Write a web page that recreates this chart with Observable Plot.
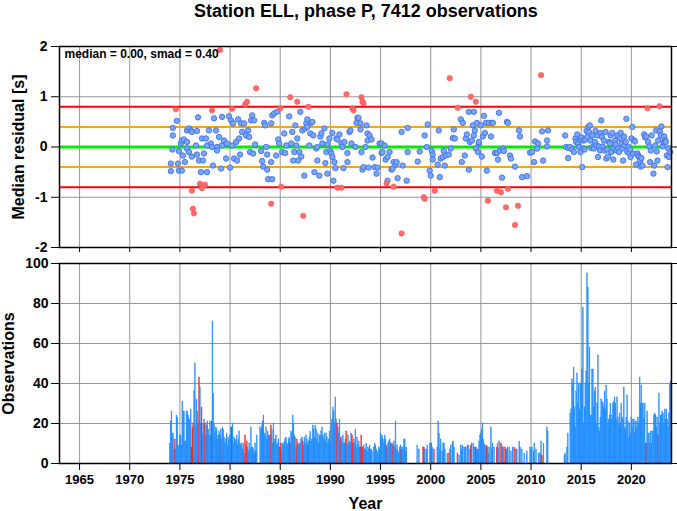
<!DOCTYPE html>
<html><head><meta charset="utf-8">
<script src="https://cdn.jsdelivr.net/npm/d3@7"></script>
<script src="https://cdn.jsdelivr.net/npm/@observablehq/plot@0.6"></script>
<style>
body{margin:0;background:#fff;width:677px;height:511px;overflow:hidden;font-family:"Liberation Sans",Arial,Helvetica,sans-serif;}
#title{height:30px;line-height:22px;font-weight:bold;font-size:18px;text-align:center;padding-left:55px;box-sizing:border-box;width:677px;color:#000;}
svg{display:block}
</style></head>
<body>
<div id="title">Station ELL, phase P, 7412 observations</div>
<div id="top"></div>
<div id="bottom"></div>
<script>
// ---- data ----
const stationTitle = "Station ELL, phase P, 7412 observations";
const median = 0.00, smad = 0.40;
const yearTicks = [1965,1970,1975,1980,1985,1990,1995,2000,2005,2010,2015,2020];
const residualTicks = [-2,-1,0,1,2];
const countTicks = [0,20,40,60,80,100];
const yearDomain = [1963, 2024];

// monthly median residuals within limits [decimal year, residual s]
const inliers = [[1974.1,-0.33],[1974.1,-0.48],[1974.25,-0.05],[1974.3,0.23],[1974.3,0.38],[1974.7,0.52],[1974.8,-0.33],[1974.9,-0.47],[1974.9,-0.08],[1975.1,0.07],[1975.2,0.13],[1975.2,-0.47],[1975.3,-0.17],[1975.4,0.15],[1975.5,-0.3],[1975.7,0.33],[1975.7,0.1],[1975.7,-0.03],[1975.9,0.37],[1975.9,-0.1],[1976.1,0.33],[1976.2,0.3],[1976.2,-0.19],[1976.6,0.03],[1976.7,0.32],[1976.7,-0.15],[1976.8,0.59],[1976.9,-0.27],[1977.1,-0.5],[1977.2,0.17],[1977.3,-0.27],[1977.4,-0.13],[1977.6,0.17],[1977.7,0.03],[1977.7,-0.5],[1977.9,0.33],[1978.1,0.07],[1978.2,0],[1978.3,-0.37],[1978.4,0.57],[1978.6,0.33],[1978.7,0],[1978.7,-0.07],[1978.9,0.2],[1979.1,-0.43],[1979.2,0.6],[1979.2,0.03],[1979.4,0.13],[1979.6,-0.23],[1979.7,0.07],[1979.9,0.61],[1980.0,-0.41],[1980.1,0.53],[1980.2,0.03],[1980.3,0.47],[1980.4,-0.23],[1980.6,0.1],[1980.7,-0.27],[1980.8,0.55],[1980.9,0.17],[1981.0,-0.15],[1981.1,0.47],[1981.2,0.3],[1981.4,0.47],[1981.6,0.23],[1981.8,0.33],[1981.9,0.2],[1982.0,-0.1],[1982.1,0.53],[1982.2,0.63],[1982.3,-0.13],[1982.4,0.53],[1982.5,0.05],[1983.1,-0.08],[1983.2,-0.28],[1983.3,-0.39],[1983.4,0.48],[1983.5,0.43],[1983.6,0],[1983.7,-0.45],[1983.7,-0.15],[1983.8,-0.64],[1984.1,0.47],[1984.1,-0.3],[1984.2,-0.64],[1984.2,0.63],[1984.4,0.67],[1984.6,-0.17],[1984.7,0.7],[1984.8,0.15],[1984.9,0.07],[1985.2,-0.1],[1985.4,0.27],[1985.5,-0.12],[1985.6,0.03],[1985.9,0.61],[1986.1,0.07],[1986.2,0.3],[1986.3,-0.27],[1986.4,-0.1],[1986.5,0.43],[1986.6,0.03],[1986.7,0.17],[1986.8,-0.27],[1986.9,-0.1],[1987.0,0.7],[1987.1,-0.19],[1987.2,0.33],[1987.4,-0.57],[1987.5,0.37],[1987.6,0.47],[1987.7,0.55],[1987.7,0.4],[1987.9,0.03],[1988.0,0.27],[1988.1,0.48],[1988.2,0.5],[1988.3,0.23],[1988.4,-0.5],[1988.6,-0.03],[1988.7,-0.27],[1988.7,0],[1988.9,-0.57],[1989.0,0.21],[1989.1,0.27],[1989.2,0.07],[1989.4,0.37],[1989.5,-0.32],[1989.6,-0.1],[1989.7,-0.53],[1989.7,0.05],[1989.9,0.17],[1990.0,-0.08],[1990.1,-0.13],[1990.2,0.28],[1990.2,-0.2],[1990.3,-0.67],[1990.4,-0.3],[1990.5,-0.42],[1990.6,0.17],[1990.7,0.15],[1990.9,0.25],[1991.1,0.07],[1991.2,0],[1991.3,-0.42],[1991.4,0.1],[1991.7,-0.3],[1991.7,-0.12],[1991.9,0.3],[1992.0,0.33],[1992.1,0.07],[1992.5,0],[1992.6,0.48],[1992.7,0.58],[1992.8,0.58],[1993.0,0.47],[1993.0,0.35],[1993.1,-0.1],[1993.2,-0.45],[1993.3,-0.4],[1993.5,0],[1993.6,0.43],[1993.7,0.27],[1993.7,0.13],[1993.8,-0.41],[1993.9,0.23],[1994.1,0.15],[1994.2,-0.21],[1994.4,-0.4],[1994.6,-0.53],[1994.7,-0.41],[1994.9,0.07],[1995.1,0.07],[1995.1,-0.12],[1995.2,-0.1],[1995.4,0.03],[1995.5,-0.25],[1995.7,-0.67],[1995.7,-0.2],[1995.9,-0.1],[1996.1,-0.45],[1996.2,-0.43],[1996.3,-0.3],[1996.5,-0.35],[1996.6,-0.3],[1996.7,-0.62],[1997.1,0.3],[1997.2,-0.37],[1997.6,-0.67],[1997.7,0.38],[1997.7,-0.1],[1998.7,-0.29],[1998.9,-0.09],
[1999.4,0.23],[1999.6,0],[1999.7,0.45],[1999.9,-0.47],[2000.0,-0.57],[2000.1,-0.08],[2000.2,-0.15],[2000.2,-0.25],[2000.7,-0.35],[2000.8,0.33],[2000.9,-0.6],[2001.0,-0.23],[2001.2,-0.2],[2001.3,-0.08],[2001.4,-0.37],[2001.5,-0.17],[2001.8,-0.15],[2002.0,-0.03],[2002.2,0.18],[2002.3,0.35],[2002.4,0.17],[2003.0,0.55],[2003.2,0.48],[2003.1,-0.3],[2003.4,-0.17],[2003.5,0.17],[2003.6,0.25],[2003.8,0.7],[2003.8,-0.45],[2003.9,0.1],[2004.1,0.13],[2004.2,0.43],[2004.3,0.23],[2004.3,0.7],[2004.4,0.33],[2004.6,0.48],[2004.5,-0.03],[2004.7,-0.1],[2004.8,0.07],[2004.8,0.1],[2005.0,0.43],[2005.1,-0.19],[2005.2,0.21],[2005.3,0.62],[2005.4,0.28],[2005.5,0.48],[2005.6,-0.47],[2005.8,0.48],[2006.0,0.21],[2006.1,0.48],[2006.2,0.48],[2006.4,-0.12],[2006.6,-0.12],[2006.7,-0.25],[2006.8,0.68],[2006.9,-0.07],[2007.1,-0.61],[2007.2,-0.03],[2007.3,-0.08],[2007.6,0.5],[2007.7,0.48],[2007.9,-0.17],[2008.0,-0.23],[2008.4,-0.39],[2008.8,0.33],[2008.9,0.21],[2009.1,-0.6],[2009.6,-0.58],[2009.9,-0.11],[2010.1,-0.1],[2010.3,-0.3],[2010.4,0.11],[2010.6,-0.03],[2010.7,0.07],[2011.1,0.31],[2011.2,-0.27],[2011.6,0.13],[2011.6,0.01],[2011.7,0.33],[2013.4,0.23],[2013.5,0],[2013.7,-0.22],[2013.7,-0.02],
[2013.9,0],[2014.1,-0.05],[2014.27,-0.1],[2014.43,0.17],[2014.5,0.1],[2014.6,0.25],[2014.7,0.07],[2014.77,0],[2014.93,0.15],[2014.93,-0.1],[2015.03,0.19],[2015.1,-0.4],[2015.2,-0.03],[2015.27,0.13],[2015.33,-0.05],[2015.43,0.15],[2015.53,0.32],[2015.6,0.2],[2015.7,0.4],[2015.77,0.3],[2015.87,0.43],[2015.93,0.13],[2016.0,-0.02],[2016.1,0.23],[2016.2,0.01],[2016.27,-0.03],[2016.37,0.1],[2016.43,0.32],[2016.53,0.03],[2016.6,0.23],[2016.67,-0.2],[2016.77,0.01],[2016.87,-0.07],[2016.93,0.28],[2017.0,0.53],[2017.07,0.2],[2017.13,0.01],[2017.27,0.13],[2017.33,-0.07],[2017.43,0.3],[2017.5,-0.23],[2017.6,-0.05],[2017.67,-0.19],[2017.77,0.1],[2017.87,0.07],[2017.93,0.23],[2018.0,-0.1],[2018.1,0.28],[2018.2,-0.25],[2018.27,-0.03],[2018.37,0.13],[2018.43,0.05],[2018.53,-0.07],[2018.6,0.23],[2018.7,-0.03],[2018.77,-0.1],[2018.87,0.17],[2018.93,0.28],[2019.03,0.07],[2019.1,-0.03],[2019.17,-0.27],[2019.27,0.21],[2019.33,0.03],[2019.43,0.1],[2019.5,0.56],[2019.6,-0.1],[2019.7,0],[2019.8,-0.13],[2019.87,-0.05],[2019.93,-0.2],[2020.0,0.17],[2020.1,0.4],[2020.17,-0.13],[2020.27,0.13],[2020.37,0.11],[2020.47,-0.35],[2020.6,-0.13],[2020.67,-0.17],[2020.77,-0.2],[2020.87,-0.27],[2020.93,-0.39],[2021.0,-0.22],[2021.1,-0.37],[2021.27,0.25],[2021.37,0.19],[2021.47,0.21],[2021.67,0.1],[2021.77,0.01],[2021.87,-0.3],[2021.93,-0.07],[2022.03,0.23],[2022.2,-0.53],[2022.27,-0.37],[2022.37,0.03],[2022.47,0.33],[2022.53,-0.09],[2022.6,-0.27],[2022.67,0.13],[2022.83,0.31],[2022.93,0.23],[2023.0,0.41],[2023.1,0.01],[2023.2,0.1],[2023.27,0.21],[2023.37,0.13],[2023.43,0.1],[2023.53,-0.17],[2023.6,-0.4],[2023.67,-0.03],[2023.77,-0.2],[2023.87,-0.1]];

// monthly median residuals flagged as outliers [decimal year, residual s]
const outliers = [[1974.6,0.75],[1976.2,-0.87],[1976.3,-1.23],[1976.4,-1.32],[1977.0,-0.73],[1977.2,-0.82],[1977.5,-0.75],[1978.2,0.73],[1979.0,1.93],[1980.2,0.76],[1981.5,0.85],[1981.7,0.9],[1982.6,1.17],[1984.1,-1.13],[1985.0,0.77],[1985.1,-0.79],[1986.0,0.99],[1986.7,0.9],[1987.3,-1.37],[1987.8,0.8],[1990.7,-0.81],[1991.1,-0.81],[1991.6,1.05],[1992.2,0.77],[1992.3,0.73],[1993.1,0.99],[1993.2,0.9],[1993.3,0.87],[1995.6,-0.72],[1996.3,-0.79],[1997.1,-1.72],[1999.3,-1.0],[1999.4,-1.03],[2000.4,-0.87],[2001.9,1.37],[2002.7,0.78],[2004.0,1.0],[2004.5,0.9],[2005.7,-1.07],[2006.6,-0.87],[2007.0,-0.9],[2007.5,-1.2],[2007.7,-0.83],[2008.4,-1.55],[2008.7,-1.17],[2011.0,1.43],[2021.6,0.77],[2022.8,0.81]];

// observations per month: [year, Jan..Dec]
const monthlyObs = [
[1974,10,21,26,14,15,7,12,7,24,23,8,9],
[1975,14,14,9,31,26,26,11,11,26,26,24,22],
[1976,22,27,8,18,20,36,50,19,32,26,20,43],
[1977,38,20,28,15,20,22,20,14,19,21,17,14],
[1978,21,14,21,71,35,20,15,18,17,12,14,16],
[1979,14,17,12,18,17,13,10,12,15,9,13,12],
[1980,14,18,18,20,10,13,12,11,14,9,12,16],
[1981,10,9,10,7,10,5,14,9,11,8,6,10],
[1982,7,18,8,8,7,5,10,6,14,0,0,0],
[1983,18,17,19,21,24,15,14,18,12,16,14,14],
[1984,14,19,17,10,20,11,12,14,9,10,12,8],
[1985,8,10,6,10,9,11,12,13,10,9,12,13],
[1986,10,16,15,24,20,14,13,8,12,10,9,10],
[1987,10,12,13,11,9,13,10,14,12,9,11,13],
[1988,16,11,12,19,17,13,19,17,12,15,10,14],
[1989,14,16,18,14,12,15,11,15,13,10,12,16],
[1990,10,20,22,28,26,20,33,22,20,18,15,22],
[1991,12,13,10,14,10,10,12,16,9,14,10,11],
[1992,10,15,14,10,12,10,17,8,13,9,11,8],
[1993,8,14,8,8,9,7,7,10,6,8,7,9],
[1994,7,7,6,0,8,10,9,7,6,5,8,7],
[1995,15,13,14,12,10,14,12,9,8,10,11,12],
[1996,10,10,10,9,11,8,21,7,9,6,5,8],
[1997,9,7,8,8,12,12,6,8,0,0,0,0],
[1998,0,0,0,0,0,0,0,0,9,0,7,0],
[1999,0,0,0,8,8,7,0,7,9,0,0,10],
[2000,10,10,8,0,7,0,0,0,8,21,15,7],
[2001,12,0,6,10,10,7,0,0,5,0,5,7],
[2002,9,0,10,11,8,0,0,0,5,0,4,0],
[2003,9,7,9,0,8,8,8,0,9,9,0,7],
[2004,9,10,0,10,8,8,8,7,7,7,11,14],
[2005,15,17,20,12,10,9,8,9,8,5,8,0],
[2006,18,7,10,0,8,0,0,8,10,7,11,0],
[2007,10,9,8,8,0,8,7,7,8,0,8,0],
[2008,6,0,8,0,8,0,7,7,0,0,11,8],
[2009,0,7,0,0,5,0,0,6,0,0,0,8],
[2010,7,8,0,6,10,0,7,0,0,5,0,5],
[2011,11,4,0,10,0,0,0,18,16,0,0,0],
[2012,0,0,0,0,0,0,0,0,0,0,0,0],
[2013,0,0,0,0,4,5,0,8,15,0,0,25],
[2014,27,42,40,48,28,18,36,45,30,40,27,40],
[2015,40,47,78,20,28,40,46,95,88,40,58,24],
[2016,24,47,47,28,36,38,20,30,54,18,16,23],
[2017,32,31,30,28,36,27,39,32,19,22,24,30],
[2018,22,24,30,31,33,30,22,33,23,19,25,20],
[2019,30,23,22,38,18,17,23,34,21,13,20,15],
[2020,23,18,22,22,15,21,18,21,23,20,43,30],
[2021,39,30,30,22,30,10,10,26,15,15,10,16],
[2022,10,16,16,24,25,24,18,23,14,35,20,24],
[2023,24,26,25,20,27,22,27,22,18,25,40,41]];

// months (year, month index 0-11) whose bars are flagged red
const flaggedMonths = [[1974,6],[1976,2],[1976,3],[1976,4],[1976,11],[1977,2],[1977,6],[1978,2],[1979,0],[1980,2],[1981,6],[1981,8],[1982,7],[1984,1],[1985,0],[1985,1],[1986,0],[1986,8],[1987,3],[1987,9],[1990,8],[1991,1],[1991,7],[1992,2],[1992,3],[1993,1],[1993,2],[1993,3],[1995,7],[1996,3],[1997,1],[1999,3],[1999,4],[2000,4],[2001,10],[2002,8],[2004,0],[2004,6],[2005,7],[2006,7],[2007,0],[2007,5],[2007,6],[2008,4],[2008,6],[2010,11],[2011,1],[2021,6],[2022,8]];

// ---- build ----
const FONT = '"Liberation Sans", Arial, Helvetica, sans-serif';
const flagSet = new Set(flaggedMonths.map(([y, m]) => y + "-" + m));
const bars = [];
for (const [yr, ...counts] of monthlyObs) {
  counts.forEach((n, m) => {
    if (n > 0) bars.push({t0: yr + m / 12, t1: yr + (m + 1) / 12, n, red: flagSet.has(yr + "-" + m)});
  });
}
const inl = inliers.map(([t, v]) => ({t, v}));
const outl = outliers.map(([t, v]) => ({t, v}));
const gridStyle = {stroke: "#8a8a8a", strokeOpacity: 1, strokeWidth: 0.9};
const fmt = d => String(d);
const barColor = d => d.red ? "#ff1a1a" : "#1e8cff";

const topPlot = Plot.plot({
  width: 677, height: 225,
  marginTop: 16, marginBottom: 8, marginLeft: 59, marginRight: 6,
  style: {fontFamily: FONT, fontWeight: "bold", fontSize: "14px", color: "black", background: "white"},
  x: {domain: yearDomain},
  y: {domain: [-2, 2]},
  marks: [
    Plot.gridX(yearTicks, gridStyle),
    Plot.gridY(residualTicks, gridStyle),
    Plot.ruleY([median + 2 * smad, median - 2 * smad], {stroke: "#ff0000", strokeWidth: 2}),
    Plot.ruleY([median + smad, median - smad], {stroke: "#ffa500", strokeWidth: 2}),
    Plot.ruleY([median], {stroke: "#00ee00", strokeWidth: 3}),
    Plot.dot(inl, {x: "t", y: "v", r: 2.7, fill: "#78a8f4", stroke: "#3d6cf0", strokeWidth: 0.9}),
    Plot.dot(outl, {x: "t", y: "v", r: 2.7, fill: "#ff6b6b", stroke: "#ff5050", strokeWidth: 0.6}),
    Plot.axisY(residualTicks, {tickSize: 8, tickPadding: 4, tickFormat: fmt, label: null, fontSize: 14}),
    Plot.axisY(residualTicks, {anchor: "right", tickSize: 5, tickFormat: () => "", label: null}),
    Plot.axisX(yearTicks, {anchor: "bottom", tickSize: 5, tickFormat: () => "", label: null}),
    Plot.frame({stroke: "black", strokeWidth: 1.5}),
    Plot.text([`median = ${median.toFixed(2)}, smad = ${smad.toFixed(2)}`], {frameAnchor: "top-left", lineAnchor: "middle", dx: 5, dy: 8, fontSize: 12, fontWeight: "bold", fill: "black"}),
    Plot.text(["Median residual [s]"], {frameAnchor: "left", textAnchor: "middle", lineAnchor: "middle", rotate: -90, dx: -41, fontSize: 16, fontWeight: "bold", fill: "black"})
  ]
});
document.getElementById("top").append(topPlot);

const bottomPlot = Plot.plot({
  width: 677, height: 256,
  marginTop: 8, marginBottom: 48, marginLeft: 59, marginRight: 6,
  style: {fontFamily: FONT, fontWeight: "bold", fontSize: "14px", color: "black", background: "white"},
  x: {domain: yearDomain},
  y: {domain: [0, 100]},
  marks: [
    Plot.gridX(yearTicks, gridStyle),
    Plot.gridY(countTicks, gridStyle),
    Plot.rectY(bars, {x1: "t0", x2: "t1", y: "n", fill: barColor, stroke: barColor, strokeWidth: 0.4}),
    Plot.axisY(countTicks, {tickSize: 8, tickPadding: 3, tickFormat: fmt, label: null, fontSize: 14}),
    Plot.axisY(countTicks, {anchor: "right", tickSize: 5, tickFormat: () => "", label: null}),
    Plot.axisX(yearTicks, {anchor: "bottom", tickSize: 7, tickPadding: 4, tickFormat: fmt, label: null, fontSize: 13}),
    Plot.frame({stroke: "black", strokeWidth: 1.5}),
    Plot.text(["Observations"], {frameAnchor: "left", textAnchor: "middle", lineAnchor: "middle", rotate: -90, dx: -51, fontSize: 16, fontWeight: "bold", fill: "black"}),
    Plot.text(["Year"], {frameAnchor: "bottom", textAnchor: "middle", lineAnchor: "middle", dy: 40, fontSize: 16, fontWeight: "bold", fill: "black"})
  ]
});
document.getElementById("bottom").append(bottomPlot);
</script>
</body></html>
